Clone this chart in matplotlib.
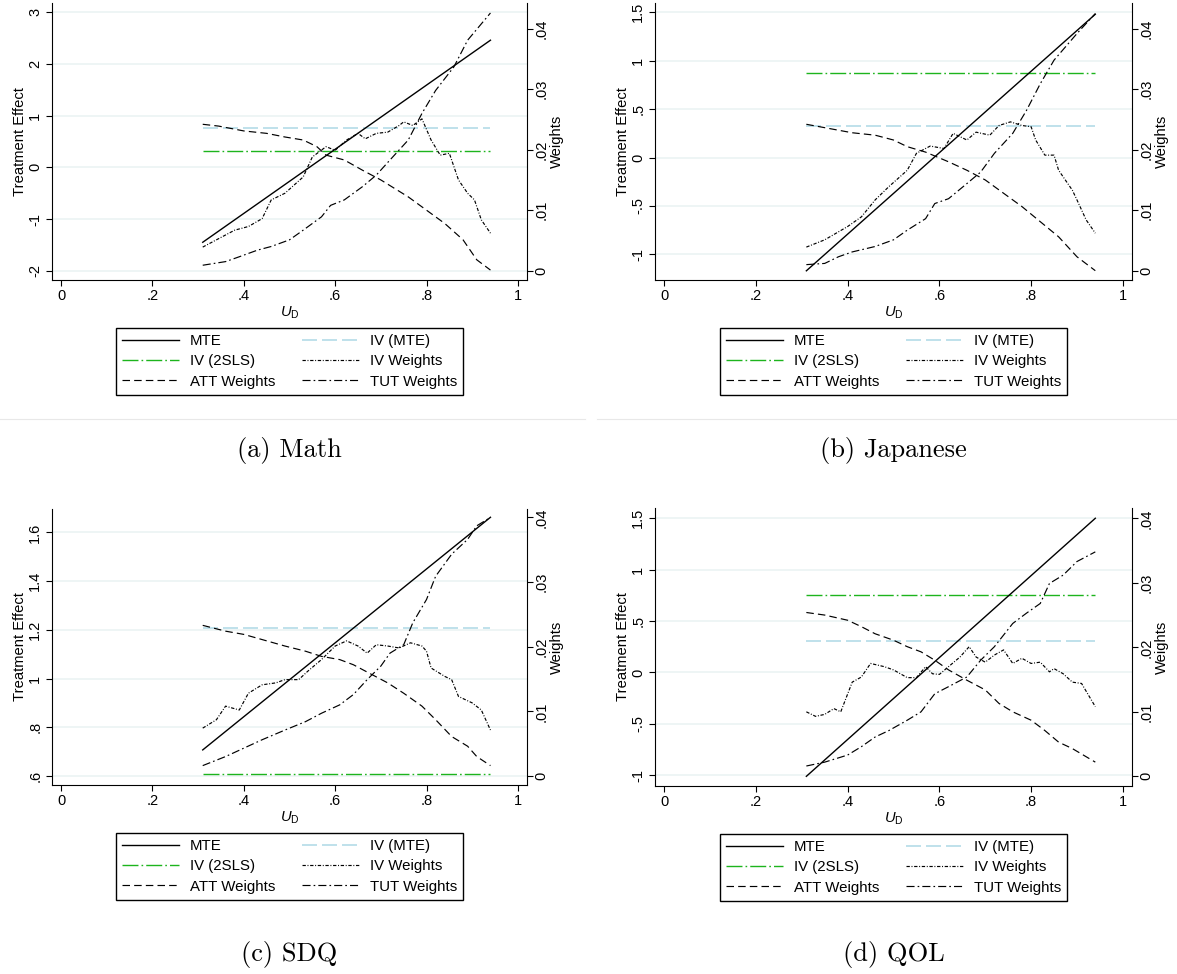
import matplotlib
matplotlib.use("Agg")
import matplotlib.pyplot as plt
from matplotlib.lines import Line2D
from matplotlib.ticker import FuncFormatter

plt.rcParams['font.family'] = 'Liberation Sans'
plt.rcParams['mathtext.fontset'] = 'custom'
plt.rcParams['mathtext.rm'] = 'Liberation Sans'
plt.rcParams['mathtext.it'] = 'Liberation Sans:italic'
plt.rcParams['lines.scale_dashes'] = False

# ---- data ----
u_ends = [0.31, 0.94]
x_ticks = [0, 0.2, 0.4, 0.6, 0.8, 1]
w_ticks = [0, 0.01, 0.02, 0.03, 0.04]

# (a) Math
a_mte = [-1.45, 2.46]
a_iv_mte = 0.77
a_iv_2sls = 0.32
a_yticks = [-2, -1, 0, 1, 2, 3]
a_att_u = [.31, .345, .40, .45, .49, .53, .56, .58, .62, .66, .70, .76, .80, .84, .88, .91, .94]
a_att_w = [.0242, .0239, .0231, .0227, .0221, .0216, .0205, .0191, .0183, .0166, .0150, .0122,
           .0100, .0078, .0051, .0018, .0001]
a_tut_u = [.31, .36, .39, .43, .46, .50, .53, .57, .59, .62, .66, .69, .72, .76, .79, .82, .86, .89, .94]
a_tut_w = [.0009, .0015, .0023, .0034, .0040, .0051, .0067, .0089, .0108, .0117, .0139, .0158,
           .0183, .0216, .0260, .0298, .0337, .0381, .0426]
a_ivw_u = [.31, .345, .38, .41, .44, .46, .49, .53, .55, .58, .60, .625, .65, .666, .69, .715, .74,
           .75, .77, .79, .81, .83, .85, .87, .89, .905, .92, .94]
a_ivw_w = [.0039, .0053, .0067, .0073, .0086, .0117, .0128, .0155, .0188, .0205, .0199, .0216,
           .0227, .0218, .0227, .0229, .0240, .0246, .0240, .0251, .0216, .0191, .0194, .0150,
           .0128, .0117, .0084, .0062]

# (b) Japanese
b_mte = [-1.17, 1.48]
b_iv_mte = 0.329
b_iv_2sls = 0.877
b_yticks = [-1, -0.5, 0, 0.5, 1, 1.5]
b_att_u = [.31, .36, .41, .46, .50, .53, .57, .62, .66, .70, .74, .78, .82, .86, .90, .94]
b_att_w = [.0242, .0235, .0228, .0224, .0216, .0205, .0196, .0180, .0166, .0150, .0128, .0106,
           .0081, .0056, .0023, .0000]
b_tut_u = [.31, .35, .38, .41, .46, .50, .53, .57, .59, .62, .66, .69, .72, .76, .79, .82, .85, .90, .94]
b_tut_w = [.0010, .0012, .0023, .0031, .0040, .0051, .0067, .0086, .0111, .0119, .0144, .0163,
           .0194, .0227, .0265, .0309, .0348, .0392, .0425]
b_ivw_u = [.31, .35, .40, .43, .46, .49, .53, .55, .58, .61, .63, .66, .68, .71, .73, .755, .78,
           .80, .81, .83, .85, .86, .89, .90, .92, .94]
b_ivw_w = [.0039, .0051, .0073, .0089, .0117, .0139, .0166, .0194, .0206, .0202, .0227, .0216,
           .0229, .0224, .0240, .0246, .0240, .0238, .0216, .0191, .0191, .0166, .0133, .0117,
           .0084, .0062]

# (c) SDQ
c_mte = [0.707, 1.662]
c_iv_mte = 1.209
c_iv_2sls = 0.607
c_yticks = [0.6, 0.8, 1, 1.2, 1.4, 1.6]
c_att_u = [.31, .36, .40, .44, .49, .535, .57, .61, .64, .68, .715, .75, .79, .82, .855, .89, .91, .94]
c_att_w = [.0233, .0224, .0219, .0211, .0201, .0193, .0185, .0180, .0172, .0157, .0144, .0128,
           .0108, .0087, .0061, .0046, .0030, .0016]
c_tut_u = [.31, .36, .40, .44, .49, .535, .57, .61, .64, .67, .70, .72, .75, .77, .80, .82, .855,
           .89, .91, .94]
c_tut_w = [.0016, .0030, .0043, .0056, .0071, .0084, .0097, .0110, .0126, .0149, .0170, .0190,
           .0203, .0237, .0273, .0309, .0343, .0366, .0387, .0400]
c_ivw_u = [.31, .34, .36, .39, .41, .44, .47, .49, .52, .54, .57, .60, .625, .65, .67, .69, .715,
           .74, .765, .79, .80, .81, .84, .855, .87, .90, .92, .94]
c_ivw_w = [.0074, .0087, .0108, .0102, .0128, .0141, .0144, .0149, .0149, .0162, .0180, .0201,
           .0209, .0201, .0190, .0203, .0201, .0198, .0206, .0201, .0193, .0167, .0154, .0149,
           .0123, .0113, .0102, .0071]

# (d) QOL
d_mte = [-1.01, 1.50]
d_iv_mte = 0.305
d_iv_2sls = 0.753
d_yticks = [-1, -0.5, 0, 0.5, 1, 1.5]
d_att_u = [.31, .35, .40, .43, .46, .50, .53, .56, .59, .62, .66, .70, .73, .76, .80, .83, .86, .89, .94]
d_att_w = [.0254, .0250, .0242, .0232, .0221, .0211, .0201, .0193, .0180, .0165, .0149, .0134,
           .0113, .0100, .0087, .0071, .0053, .0043, .0022]
d_tut_u = [.31, .35, .40, .43, .46, .49, .53, .56, .59, .62, .66, .69, .72, .76, .79, .82, .84,
           .87, .90, .94]
d_tut_w = [.0016, .0022, .0033, .0046, .0061, .0071, .0087, .0100, .0128, .0139, .0154, .0180,
           .0201, .0237, .0253, .0268, .0299, .0312, .0333, .0348]
d_ivw_u = [.31, .33, .35, .37, .385, .41, .43, .45, .48, .50, .53, .55, .57, .585, .60, .62, .645,
           .665, .68, .70, .72, .74, .76, .78, .80, .82, .84, .85, .87, .89, .91, .94]
d_ivw_w = [.0100, .0093, .0096, .0105, .0100, .0146, .0154, .0175, .0170, .0165, .0153, .0153,
           .0170, .0159, .0158, .0170, .0185, .0201, .0185, .0177, .0188, .0196, .0175, .0183,
           .0175, .0177, .0162, .0167, .0159, .0146, .0144, .0108]

captions = ['(a) Math', '(b) Japanese', '(c) SDQ', '(d) QOL']

# ---- styles (dash lengths in points) ----
styles = {
    'MTE': dict(color='black', lw=1.0, ls='-'),
    'IV (MTE)': dict(color='#add8e6', lw=1.1, ls=(0, (10.8, 3.6))),
    'IV (2SLS)': dict(color='#1db41d', lw=1.0, ls=(0, (11.5, 2.2, 1.2, 2.2))),
    'IV Weights': dict(color='black', lw=0.85, ls=(0, (2.4, 1.2, 0.7, 1.2))),
    'ATT Weights': dict(color='black', lw=0.85, ls=(0, (5.4, 3.0))),
    'TUT Weights': dict(color='black', lw=0.85, ls=(0, (5.8, 2.2, 1.2, 2.2))),
}
legend_order = ['MTE', 'IV (2SLS)', 'ATT Weights', 'IV (MTE)', 'IV Weights', 'TUT Weights']

W, H = 1177, 974
fig = plt.figure(figsize=(W / 100, H / 100), dpi=100)


def px_rect(l, t, r, b):
    return [l / W, 1 - b / H, (r - l) / W, (b - t) / H]


def stata_fmt(v, pos):
    s = f'{v:g}'
    if s.startswith('0.'):
        s = s[1:]
    elif s.startswith('-0.'):
        s = '-' + s[2:]
    return s


def panel(rect, ylim, wlim, yticks, mte, iv_mte, iv_2sls, att, tut, ivw, caption, cap_y):
    ax = fig.add_axes(px_rect(*rect))
    ax2 = ax.twinx()
    ax.set_xlim(-0.02, 1.02)
    ax.set_ylim(*ylim)
    ax2.set_ylim(*wlim)

    ax.plot(u_ends, [iv_mte, iv_mte], **styles['IV (MTE)'])
    ax.plot(u_ends, [iv_2sls, iv_2sls], **styles['IV (2SLS)'])
    ax.plot(u_ends, mte, **styles['MTE'])
    ax2.plot(ivw[0], ivw[1], **styles['IV Weights'])
    ax2.plot(att[0], att[1], **styles['ATT Weights'])
    ax2.plot(tut[0], tut[1], **styles['TUT Weights'])

    ax.set_yticks(yticks)
    ax.set_xticks(x_ticks)
    ax2.set_yticks(w_ticks)
    for a in (ax, ax2):
        a.yaxis.set_major_formatter(FuncFormatter(stata_fmt))
        a.spines['top'].set_visible(False)
    ax.xaxis.set_major_formatter(FuncFormatter(stata_fmt))
    ax.spines['right'].set_visible(False)
    ax2.spines['left'].set_visible(False)
    ax2.spines['bottom'].set_visible(False)
    for a in (ax, ax2):
        for sp in a.spines.values():
            sp.set_linewidth(0.8)

    ax.grid(axis='y', color='#eaf2f3', lw=1.1)
    ax.set_axisbelow(True)
    ax.tick_params(axis='y', length=4.5, width=0.8, pad=2.5, labelsize=10.5, labelrotation=90)
    ax.tick_params(axis='x', length=4.5, width=0.8, pad=2, labelsize=10.5)
    ax2.tick_params(axis='y', length=4.5, width=0.8, pad=1, labelsize=10.5, labelrotation=90)
    for lab in ax.get_yticklabels() + ax2.get_yticklabels():
        lab.set_va('center')

    ax.set_ylabel('Treatment Effect', fontsize=10.6, labelpad=1)
    ax2.set_ylabel('Weights', fontsize=10.6, labelpad=1, rotation=90)
    ax.set_xlabel(r'$U_{\mathrm{D}}$', fontsize=10.6, labelpad=1)

    handles = [Line2D([], [], **styles[k]) for k in legend_order]
    cx = (rect[0] + rect[2]) / 2 / W
    leg_top = rect[3] + 48
    fig.legend(handles, legend_order, ncol=2, loc='upper center',
               bbox_to_anchor=(cx, 1 - leg_top / H), bbox_transform=fig.transFigure,
               borderaxespad=0, fontsize=10.8, frameon=True, fancybox=False,
               edgecolor='black', framealpha=1, handlelength=3.8, handletextpad=0.7,
               columnspacing=1.8, labelspacing=0.42, borderpad=0.4)
    fig.text(cx, 1 - cap_y / H, caption, ha='center', va='center', family='cmr10', fontsize=19)
    return ax


panel((52, 3.3, 527, 280), (-2.18, 3.174), (-0.00154, 0.0442), a_yticks, a_mte, a_iv_mte, a_iv_2sls,
      (a_att_u, a_att_w), (a_tut_u, a_tut_w), (a_ivw_u, a_ivw_w), captions[0], 451)
panel((655, 3.3, 1132, 280), (-1.265, 1.593), (-0.00154, 0.0442), b_yticks, b_mte, b_iv_mte, b_iv_2sls,
      (b_att_u, b_att_w), (b_tut_u, b_tut_w), (b_ivw_u, b_ivw_w), captions[1], 451)
panel((52, 509, 527, 785), (0.563, 1.696), (-0.0014, 0.0413), c_yticks, c_mte, c_iv_mte, c_iv_2sls,
      (c_att_u, c_att_w), (c_tut_u, c_tut_w), (c_ivw_u, c_ivw_w), captions[2], 955)
panel((655, 508, 1132, 786), (-1.104, 1.60), (-0.0015, 0.0416), d_yticks, d_mte, d_iv_mte, d_iv_2sls,
      (d_att_u, d_att_w), (d_tut_u, d_tut_w), (d_ivw_u, d_ivw_w), captions[3], 955)

# faint bottom borders of the upper graph images
fig.add_artist(Line2D([0, 585 / W], [1 - 419 / H] * 2, color='#e8e8e8', lw=0.8))
fig.add_artist(Line2D([597 / W, 1], [1 - 419 / H] * 2, color='#e8e8e8', lw=0.8))

fig.savefig('out.png', dpi=100)
